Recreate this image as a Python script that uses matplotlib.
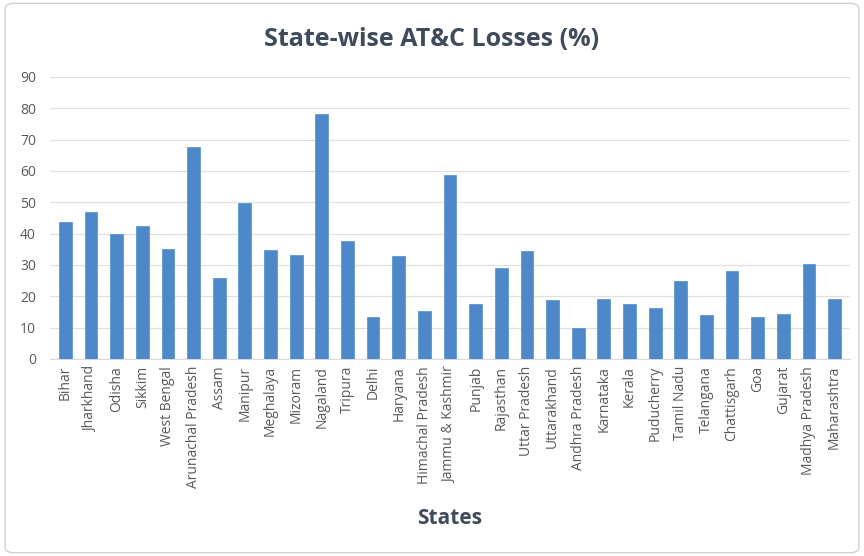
import matplotlib
matplotlib.use("Agg")
import matplotlib.pyplot as plt
from matplotlib.patches import FancyBboxPatch

states = [
    "Bihar", "Jharkhand", "Odisha", "Sikkim", "West Bengal", "Arunachal Pradesh",
    "Assam", "Manipur", "Meghalaya", "Mizoram", "Nagaland", "Tripura", "Delhi",
    "Haryana", "Himachal Pradesh", "Jammu & Kashmir", "Punjab", "Rajasthan",
    "Uttar Pradesh", "Uttarakhand", "Andhra Pradesh", "Karnataka", "Kerala",
    "Puducherry", "Tamil Nadu", "Telangana", "Chattisgarh", "Goa", "Gujarat",
    "Madhya Pradesh", "Maharashtra",
]
losses = [
    43.6, 47.0, 39.8, 42.5, 35.2, 67.6,
    26.0, 49.7, 34.7, 33.3, 78.3, 37.8, 13.3,
    32.9, 15.2, 58.8, 17.4, 29.1,
    34.4, 18.7, 10.0, 19.0, 17.5,
    16.4, 25.0, 14.0, 28.0, 13.4, 14.5,
    30.3, 19.3,
]
yticks = list(range(0, 100, 10))

plt.rcParams["font.family"] = ["Open Sans", "DejaVu Sans"]

fig = plt.figure(figsize=(8.64, 5.56), dpi=100)
# light frame around the chart, like the spreadsheet chart area
fig.patches.append(FancyBboxPatch((0.006, 0.006), 0.988, 0.988,
                                  boxstyle="round,pad=0,rounding_size=0.01",
                                  transform=fig.transFigure, fill=False,
                                  edgecolor="#D0D0D0", linewidth=1.0))

ax = fig.add_axes([50 / 864, 1 - 359 / 556, 800 / 864, (359 - 77) / 556])
x = range(len(states))
ax.bar(x, losses, width=0.5, color="#4D89C9", edgecolor="#5F96D0",
       linewidth=0.6, zorder=3)

ax.set_ylim(0, 90)
ax.set_xlim(-0.6, len(states) - 0.4)
ax.set_yticks(yticks)
ax.set_xticks(list(x))
ax.set_xticklabels(states, rotation=90, fontsize=10, color="#595959")
ax.tick_params(axis="y", labelsize=10, colors="#595959", length=0, pad=10)
ax.tick_params(axis="x", length=0, pad=5)
ax.grid(axis="y", color="#E0E0E0", linewidth=0.9, zorder=0)
for s in ["top", "right", "left"]:
    ax.spines[s].set_visible(False)
ax.spines["bottom"].set_color("#D9D9D9")

fig.text(0.5, 1 - 40 / 556, "State-wise AT&C Losses (%)", ha="center",
         va="center", fontsize=18, fontweight="bold", color="#3F4B5B")
fig.text(450 / 864, 1 - 518 / 556, "States", ha="center", va="center",
         fontsize=15, fontweight="bold", color="#3F4B5B")

fig.savefig("out.png", dpi=100)
